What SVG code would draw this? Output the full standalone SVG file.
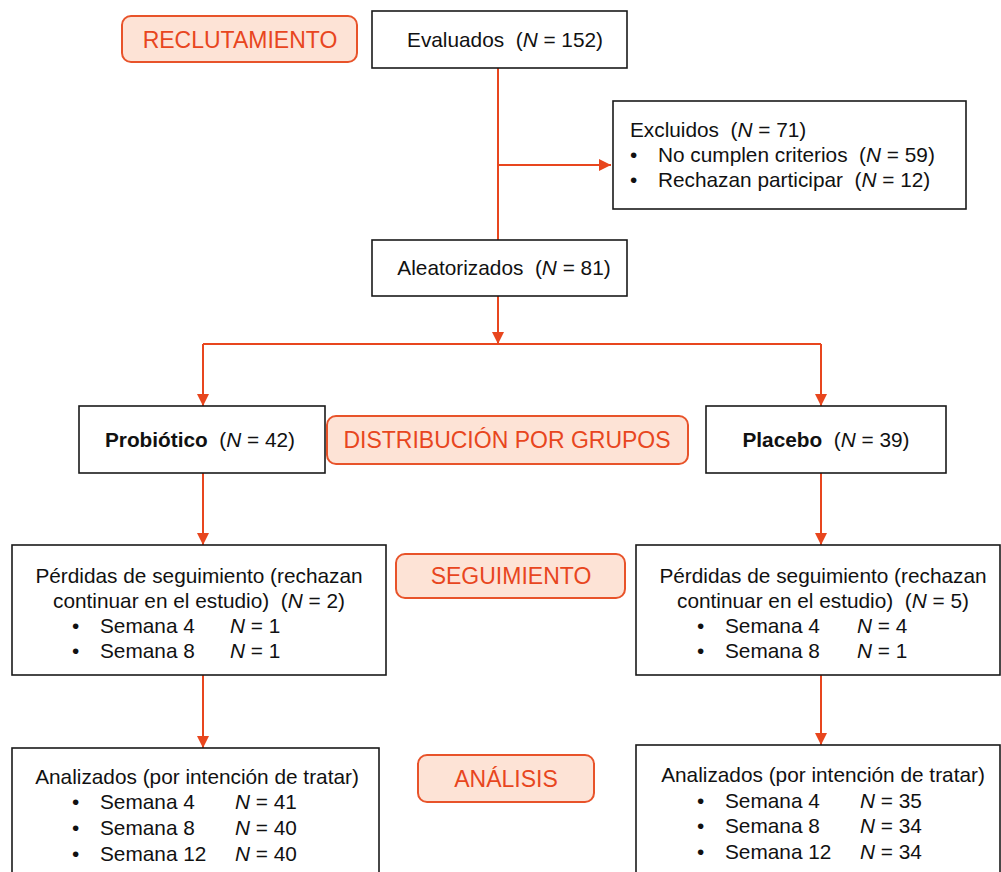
<svg xmlns="http://www.w3.org/2000/svg" width="1001" height="872" viewBox="0 0 1001 872">
<style>
.box{fill:#fff;stroke:#1a1a1a;stroke-width:1.6}
.stage{fill:#fde3d6;stroke:#e8532a;stroke-width:2}
text{white-space:pre}
.t{font-family:"Liberation Sans",Arial,sans-serif;font-size:20.8px;fill:#111}
.s{font-family:"Liberation Sans",Arial,sans-serif;font-size:23px;fill:#e8461e}
.c{text-anchor:middle}
.b{font-weight:bold}
.i{font-style:italic}
.conn{fill:none;stroke:#e8461e;stroke-width:2}
</style>
<defs>
<marker id="ah" viewBox="0 0 10 10" refX="10" refY="5" markerWidth="12" markerHeight="12" markerUnits="userSpaceOnUse" orient="auto">
<path d="M0,0 L10,5 L0,10 z" fill="#e8461e"/>
</marker>
</defs>
<rect width="1001" height="872" fill="#fff"/>
<g id="connectors">
<path class="conn" d="M498,68 V240"/>
<path class="conn" d="M498,165 H611" marker-end="url(#ah)"/>
<path class="conn" d="M498,296 V344" marker-end="url(#ah)"/>
<path class="conn" d="M203,344 H821"/>
<path class="conn" d="M203,344 V406" marker-end="url(#ah)"/>
<path class="conn" d="M821,344 V406" marker-end="url(#ah)"/>
<path class="conn" d="M203,473 V545" marker-end="url(#ah)"/>
<path class="conn" d="M821,473 V545" marker-end="url(#ah)"/>
<path class="conn" d="M203,675 V748" marker-end="url(#ah)"/>
<path class="conn" d="M821,675 V745" marker-end="url(#ah)"/>
</g>
<g id="stage-reclutamiento">
<rect class="stage" x="122" y="16" width="235" height="46" rx="9"/>
<text class="s c" x="240" y="48">RECLUTAMIENTO</text>
</g>
<g id="evaluados">
<rect class="box" x="372" y="11" width="255" height="57"/>
<text class="t c" x="505" y="47" xml:space="preserve">Evaluados  (<tspan class="i">N</tspan> = 152)</text>
</g>
<g id="excluidos">
<rect class="box" x="613" y="101" width="353" height="108"/>
<text class="t" x="630" y="137" xml:space="preserve">Excluidos  (<tspan class="i">N</tspan> = 71)</text>
<text class="t" x="630" y="162">•</text>
<text class="t" x="658" y="162" xml:space="preserve">No cumplen criterios  (<tspan class="i">N</tspan> = 59)</text>
<text class="t" x="630" y="187">•</text>
<text class="t" x="658" y="187" xml:space="preserve">Rechazan participar  (<tspan class="i">N</tspan> = 12)</text>
</g>
<g id="aleatorizados">
<rect class="box" x="372" y="240" width="255" height="56"/>
<text class="t c" x="504" y="275" xml:space="preserve">Aleatorizados  (<tspan class="i">N</tspan> = 81)</text>
</g>
<g id="probiotico">
<rect class="box" x="79" y="406" width="246" height="67"/>
<text class="t c" x="200" y="447" xml:space="preserve"><tspan class="b">Probiótico</tspan>  (<tspan class="i">N</tspan> = 42)</text>
</g>
<g id="stage-distribucion">
<rect class="stage" x="327" y="416" width="361" height="48" rx="9"/>
<text class="s c" x="507" y="448">DISTRIBUCIÓN POR GRUPOS</text>
</g>
<g id="placebo">
<rect class="box" x="706" y="406" width="240" height="67"/>
<text class="t c" x="826" y="447" xml:space="preserve"><tspan class="b">Placebo</tspan>  (<tspan class="i">N</tspan> = 39)</text>
</g>
<g id="perdidas-probiotico">
<rect class="box" x="12" y="545" width="374" height="130"/>
<text class="t c" x="199" y="583">Pérdidas de seguimiento (rechazan</text>
<text class="t c" x="199" y="608" xml:space="preserve">continuar en el estudio)  (<tspan class="i">N</tspan> = 2)</text>
<text class="t" x="72" y="633">•</text>
<text class="t" x="100" y="633">Semana 4</text>
<text class="t" x="230" y="633"><tspan class="i">N</tspan> = 1</text>
<text class="t" x="72" y="658">•</text>
<text class="t" x="100" y="658">Semana 8</text>
<text class="t" x="230" y="658"><tspan class="i">N</tspan> = 1</text>
</g>
<g id="stage-seguimiento">
<rect class="stage" x="396" y="554" width="229" height="44" rx="9"/>
<text class="s c" x="511" y="584">SEGUIMIENTO</text>
</g>
<g id="perdidas-placebo">
<rect class="box" x="636" y="545" width="364" height="130"/>
<text class="t c" x="823" y="583">Pérdidas de seguimiento (rechazan</text>
<text class="t c" x="823" y="608" xml:space="preserve">continuar en el estudio)  (<tspan class="i">N</tspan> = 5)</text>
<text class="t" x="697" y="633">•</text>
<text class="t" x="725" y="633">Semana 4</text>
<text class="t" x="857" y="633"><tspan class="i">N</tspan> = 4</text>
<text class="t" x="697" y="658">•</text>
<text class="t" x="725" y="658">Semana 8</text>
<text class="t" x="857" y="658"><tspan class="i">N</tspan> = 1</text>
</g>
<g id="analizados-probiotico">
<rect class="box" x="12" y="748" width="367" height="130"/>
<text class="t c" x="197" y="784">Analizados (por intención de tratar)</text>
<text class="t" x="72" y="809">•</text>
<text class="t" x="100" y="809">Semana 4</text>
<text class="t" x="235" y="809"><tspan class="i">N</tspan> = 41</text>
<text class="t" x="72" y="835">•</text>
<text class="t" x="100" y="835">Semana 8</text>
<text class="t" x="235" y="835"><tspan class="i">N</tspan> = 40</text>
<text class="t" x="72" y="861">•</text>
<text class="t" x="100" y="861">Semana 12</text>
<text class="t" x="235" y="861"><tspan class="i">N</tspan> = 40</text>
</g>
<g id="stage-analisis">
<rect class="stage" x="418" y="755" width="176" height="47" rx="9"/>
<text class="s c" x="506" y="787">ANÁLISIS</text>
</g>
<g id="analizados-placebo">
<rect class="box" x="636" y="745" width="364" height="133"/>
<text class="t c" x="823" y="782">Analizados (por intención de tratar)</text>
<text class="t" x="697" y="808">•</text>
<text class="t" x="725" y="808">Semana 4</text>
<text class="t" x="860" y="808"><tspan class="i">N</tspan> = 35</text>
<text class="t" x="697" y="833">•</text>
<text class="t" x="725" y="833">Semana 8</text>
<text class="t" x="860" y="833"><tspan class="i">N</tspan> = 34</text>
<text class="t" x="697" y="859">•</text>
<text class="t" x="725" y="859">Semana 12</text>
<text class="t" x="860" y="859"><tspan class="i">N</tspan> = 34</text>
</g>
</svg>
